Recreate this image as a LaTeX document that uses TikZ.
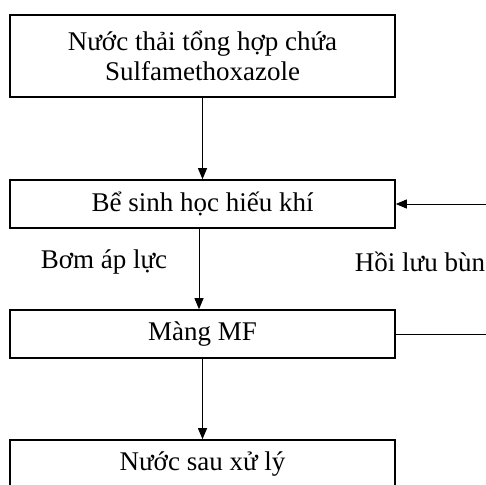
\documentclass[tikz,border=0pt]{standalone}
\usepackage{fontspec}
\setmainfont{Liberation Serif}
\usetikzlibrary{arrows.meta}

\begin{document}
\begin{tikzpicture}[x=1pt, y=1pt, >={Triangle[width=9pt,length=11pt]},
    hop/.style = {draw, line width=1.6pt, minimum width=385pt, align=center,
                  font=\fontsize{27}{30}\selectfont, inner sep=0pt},
    nhan/.style = {font=\fontsize{27}{30}\selectfont},
    mui/.style = {->, line width=0.9pt}]

    \useasboundingbox (0,0) rectangle (486,-484);

    \node[hop, minimum height=82pt] (nuocthai) at (202.5,-56) {Nước thải tổng hợp chứa\\Sulfamethoxazole};
    \node[hop, minimum height=48pt] (besinhhoc) at (202.5,-204) {Bể sinh học hiếu khí};
    \node[hop, minimum height=48pt] (mang) at (202.5,-334) {Màng MF};
    \node[hop, minimum height=48pt] (nuocsau) at (202.5,-464) {Nước sau xử lý};

    \node[nhan] (bom) at (104,-262) {Bơm áp lực};
    \node[nhan] (hoiluu) at (420,-262) {Hồi lưu bùn};

    \coordinate (ngoai) at (510,-334);

    \draw[mui] (nuocthai) -- (besinhhoc);
    \draw[mui] ([xshift=-3.5pt]besinhhoc.south) -- ([xshift=-3.5pt]mang.north);
    \draw[mui] (mang) -- (nuocsau);
    \draw[mui] (mang.east) -- (ngoai) |- (besinhhoc.east);

\end{tikzpicture}
\end{document}
